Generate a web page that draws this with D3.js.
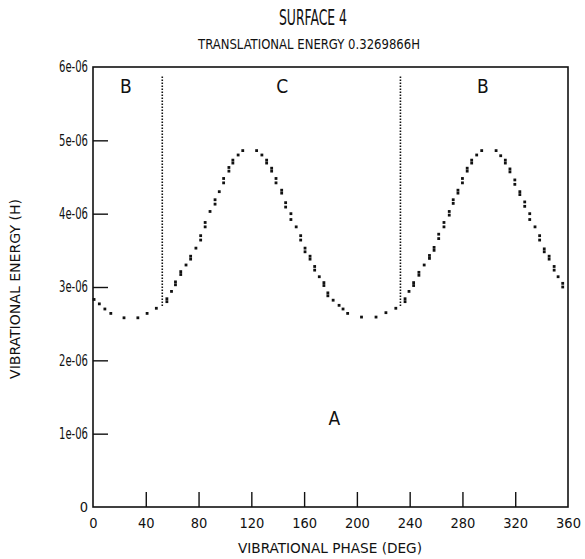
<!DOCTYPE html>
<html>
<head>
<meta charset="utf-8">
<script src="https://cdn.jsdelivr.net/npm/d3@7"></script>
<style>
  body { margin: 0; background: #fff; }
  text { font-family: "DejaVu Sans Condensed", "DejaVu Sans", sans-serif; font-stretch: condensed; fill: #111; }
</style>
</head>
<body>
<svg id="chart" width="585" height="559"></svg>
<script>
(function () {
  // phase (deg) and vibrational energy (units of 1e-6 H); doubled dots share a phase
  var phase = [
    0.8, 4.8, 9, 13.5, 23.5, 34, 41, 48,
    56, 56, 59.5, 62.5, 62.5, 66.5, 66.5, 70.5, 74, 74, 78, 81.6, 81.6, 85, 85, 88.7,
    92.5, 92.5, 95.7, 99, 99, 103, 103, 106, 106, 110, 113.5,
    124, 128, 131.6, 131.6, 135.4, 135.4, 138.7, 138.7, 143, 143, 146, 146, 150, 150, 154,
    157.4, 157.4, 160.7, 160.7, 164.5, 164.5, 168, 168, 171.5, 175, 175, 178, 178,
    182, 186.5, 189.5, 193, 203.5, 214.5, 222, 229.5,
    236.5, 236.5, 239.5, 243, 243, 247, 247, 251, 255, 255, 258.5, 258.5, 262, 262,
    266, 266, 270, 270, 273, 273, 276.6, 276.6, 280, 280, 283.6, 283.6, 287, 287, 290.8, 294.6,
    305.5, 309, 312.5, 312.5, 316, 316, 319.7, 319.7, 323.5, 323.5, 327.2, 327.2, 331, 331, 335,
    338.5, 338.5, 342, 342, 345.7, 345.7, 349.5, 349.5, 352.5, 356, 356
  ];
  var energy = [
    2.83, 2.77, 2.70, 2.64, 2.58, 2.58, 2.64, 2.71,
    2.80, 2.84, 2.94, 3.03, 3.07, 3.17, 3.21, 3.30, 3.38, 3.42, 3.53, 3.64, 3.70, 3.82, 3.88, 4.03,
    4.13, 4.19, 4.30, 4.42, 4.48, 4.58, 4.63, 4.69, 4.73, 4.80, 4.86,
    4.86, 4.80, 4.69, 4.73, 4.58, 4.62, 4.42, 4.48, 4.28, 4.32, 4.09, 4.15, 3.92, 4.00, 3.82,
    3.64, 3.70, 3.48, 3.53, 3.38, 3.42, 3.23, 3.28, 3.14, 3.02, 3.06, 2.88, 2.92,
    2.82, 2.75, 2.70, 2.64, 2.59, 2.59, 2.65, 2.71,
    2.80, 2.84, 2.94, 3.02, 3.06, 3.16, 3.20, 3.30, 3.39, 3.43, 3.50, 3.54, 3.66, 3.72,
    3.82, 3.88, 3.98, 4.03, 4.14, 4.19, 4.28, 4.32, 4.42, 4.48, 4.58, 4.62, 4.69, 4.73, 4.80, 4.86,
    4.86, 4.79, 4.69, 4.73, 4.57, 4.61, 4.40, 4.46, 4.26, 4.30, 4.10, 4.16, 3.92, 4.00, 3.82,
    3.64, 3.70, 3.48, 3.52, 3.38, 3.42, 3.23, 3.28, 3.14, 3.00, 3.05
  ];
  // region boundaries (deg), drawn from bottom to top energy
  var boundaryPhase = [52.5, 233];
  var boundaryEnergy = [2.74, 5.89];

  var regionLabels = ['B', 'C', 'B', 'A'];
  var regionPhase = [25, 143.5, 295.5, 183];
  var regionEnergy = [5.72, 5.72, 5.72, 1.2];

  var xTicks = [0, 40, 80, 120, 160, 200, 240, 280, 320, 360];
  var yTicks = [0, 1, 2, 3, 4, 5, 6];

  var svg = d3.select('#chart');
  var left = 93, right = 568, top = 67, bottom = 507;

  var x = d3.scaleLinear().domain([0, 360]).range([left, right]);
  var y = d3.scaleLinear().domain([0, 6]).range([bottom, top]);

  // titles
  svg.append('text')
    .attr('x', 313).attr('y', 25)
    .attr('text-anchor', 'middle')
    .attr('font-size', 22)
    .attr('textLength', 68).attr('lengthAdjust', 'spacingAndGlyphs')
    .text('SURFACE 4');
  svg.append('text')
    .attr('x', 309).attr('y', 49)
    .attr('text-anchor', 'middle')
    .attr('font-size', 14)
    .attr('textLength', 222).attr('lengthAdjust', 'spacingAndGlyphs')
    .text('TRANSLATIONAL ENERGY 0.3269866H');

  // axes: ticks drawn inside the frame
  var xAxis = d3.axisBottom(x).tickValues(xTicks).tickSize(-15).tickPadding(11)
    .tickFormat(d3.format('d'));
  var gx = svg.append('g').attr('transform', 'translate(0,' + bottom + ')').call(xAxis);
  var yAxis = d3.axisLeft(y).tickValues(yTicks).tickSize(-15).tickPadding(5)
    .tickFormat(function(d) { return d === 0 ? '0' : d + 'e-06'; });
  var gy = svg.append('g').attr('transform', 'translate(' + left + ',0)').call(yAxis);

  [gx, gy].forEach(function(g) {
    g.select('.domain').remove();
    g.selectAll('line').attr('stroke', '#111').attr('stroke-width', 1.4);
    g.selectAll('text').attr('font-size', 14.5).attr('fill', '#111')
      .style('font-family', '"DejaVu Sans Condensed", "DejaVu Sans", sans-serif');
  });
  gy.selectAll('text').filter(function(d) { return d !== 0; })
    .attr('font-size', 15.5)
    .attr('textLength', 29).attr('lengthAdjust', 'spacingAndGlyphs');
  gx.selectAll('.tick').filter(function(d) { return d === 0 || d === 360; }).select('line').remove();
  gy.selectAll('.tick').filter(function(d) { return d === 0 || d === 6; }).select('line').remove();

  svg.append('rect')
    .attr('x', left).attr('y', top)
    .attr('width', right - left).attr('height', bottom - top)
    .attr('fill', 'none').attr('stroke', '#111').attr('stroke-width', 1.6);

  // axis titles
  svg.append('text')
    .attr('x', 330).attr('y', 553)
    .attr('text-anchor', 'middle')
    .attr('font-size', 14)
    .attr('textLength', 184).attr('lengthAdjust', 'spacingAndGlyphs')
    .text('VIBRATIONAL PHASE (DEG)');
  svg.append('text')
    .attr('transform', 'translate(20,289) rotate(-90)')
    .attr('text-anchor', 'middle')
    .attr('font-size', 14)
    .attr('textLength', 180).attr('lengthAdjust', 'spacingAndGlyphs')
    .text('VIBRATIONAL ENERGY (H)');

  // boundaries between regions
  svg.selectAll('.boundary')
    .data(boundaryPhase)
    .enter()
    .append('line')
    .attr('class', 'boundary')
    .attr('x1', function(d) { return x(d); })
    .attr('x2', function(d) { return x(d); })
    .attr('y1', y(boundaryEnergy[0]))
    .attr('y2', y(boundaryEnergy[1]))
    .attr('stroke', '#111')
    .attr('stroke-width', 1.6)
    .attr('stroke-dasharray', '1.5,1.5');

  // dots
  svg.selectAll('.dot')
    .data(phase)
    .enter()
    .append('rect')
    .attr('class', 'dot')
    .attr('x', function(d) { return x(d) - 1.4; })
    .attr('y', function(d, i) { return y(energy[i]) - 1.4; })
    .attr('width', 2.8)
    .attr('height', 2.8)
    .attr('fill', '#111');

  svg.selectAll('.region')
    .data(regionLabels)
    .enter()
    .append('text')
    .attr('class', 'region')
    .attr('x', function(d, i) { return x(regionPhase[i]); })
    .attr('y', function(d, i) { return y(regionEnergy[i]); })
    .attr('text-anchor', 'middle')
    .attr('dominant-baseline', 'middle')
    .attr('font-size', 19)
    .text(function(d) { return d; });
})();
</script>
</body>
</html>
